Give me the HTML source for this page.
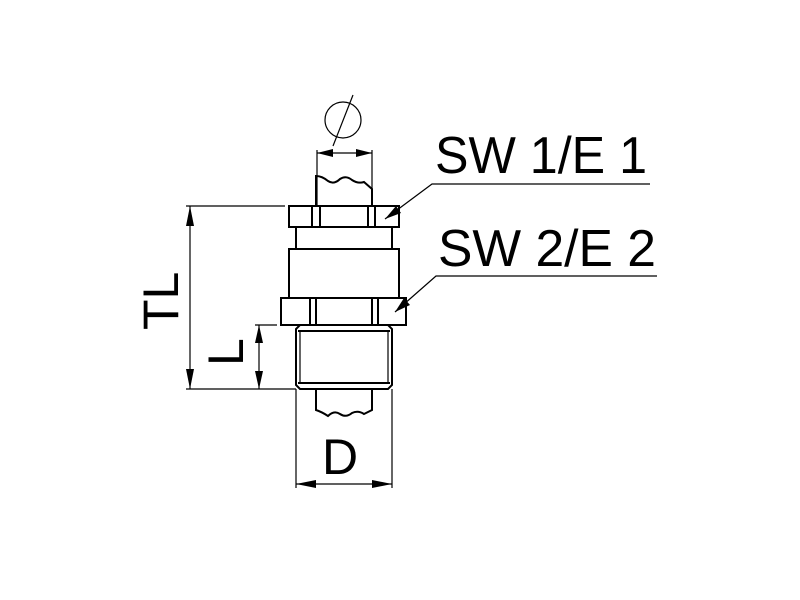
<!DOCTYPE html>
<html><head><style>body{margin:0;background:#fff}svg{display:block}</style></head><body>
<svg width="800" height="600" viewBox="0 0 800 600" xmlns="http://www.w3.org/2000/svg">
<rect width="800" height="600" fill="#fff"/>
<g fill="none" stroke="#000" stroke-width="2">
<!-- phi -->
<circle cx="343" cy="120" r="18" stroke-width="1.2"/>
<line x1="353" y1="95" x2="333" y2="146" stroke-width="1.2"/>
<line x1="317" y1="150" x2="317" y2="206" stroke-width="1.2"/>
<line x1="372" y1="150" x2="372" y2="206" stroke-width="1.2"/>
<line x1="317" y1="153" x2="372" y2="153" stroke-width="1.2"/>
<!-- top shaft -->
<path d="M316 206 V176 Q322 176 328 181 Q334 185 340 179 Q346 175 352 180 Q358 184 364 182 L372 189 V206"/>
<!-- top nut -->
<rect x="289" y="206" width="110" height="21"/>
<line x1="312" y1="206" x2="312" y2="227"/><line x1="320" y1="206" x2="320" y2="227"/>
<line x1="368" y1="206" x2="368" y2="227"/><line x1="375" y1="206" x2="375" y2="227"/>
<!-- neck -->
<line x1="296" y1="227" x2="296" y2="249"/><line x1="392" y1="227" x2="392" y2="249"/>
<!-- body -->
<rect x="289" y="249" width="110" height="49"/>
<!-- lower nut -->
<rect x="281" y="298" width="125" height="27"/>
<line x1="310" y1="298" x2="310" y2="325"/><line x1="316" y1="298" x2="316" y2="325"/>
<line x1="372" y1="298" x2="372" y2="325"/><line x1="378" y1="298" x2="378" y2="325"/>
<!-- thread -->
<path d="M300 325 H388 L392 329 V385 L388 389 H300 L296 385 V329 Z"/>
<line x1="298" y1="331" x2="390" y2="331"/><line x1="298" y1="383" x2="390" y2="383"/>
<line x1="300" y1="331" x2="300" y2="383" stroke-width="1.2"/><line x1="388" y1="331" x2="388" y2="383" stroke-width="1.2"/>
<!-- lower shaft -->
<path d="M316 389 V410 Q322 412 328 416 Q334 410 340 414 Q346 418 352 413 Q358 410 364 414 L372 410 V389"/>
</g>
<g fill="none" stroke="#000" stroke-width="1.2">
<!-- TL -->
<line x1="186" y1="206" x2="285" y2="206"/>
<line x1="186" y1="389" x2="296" y2="389"/>
<line x1="190" y1="206" x2="190" y2="389"/>
<!-- L -->
<line x1="255" y1="325" x2="277" y2="325"/>
<line x1="259" y1="325" x2="259" y2="389"/>
<!-- D -->
<line x1="296" y1="389" x2="296" y2="488"/>
<line x1="392" y1="389" x2="392" y2="488"/>
<line x1="296" y1="484" x2="392" y2="484"/>
<!-- leaders -->
<polyline points="650,184 432,184 385,219"/>
<polyline points="657,276 436,276 395,312"/>
</g>
<g fill="#000">
<polygon points="190,206 186,226 194,226"/><polygon points="190,389 186,369 194,369"/>
<polygon points="259,325 255,343 263,343"/><polygon points="259,389 255,371 263,371"/>
<polygon points="296,484 316,480 316,488"/><polygon points="392,484 372,480 372,488"/>
<polygon points="317,153 333,149 333,157"/><polygon points="372,153 356,149 356,157"/>
<polygon points="385,219 396,206 401,213"/><polygon points="395,312 404,298 410,305"/>
</g>
<g font-family="Liberation Sans, sans-serif" fill="#000">
<text x="435" y="173" font-size="52" textLength="212" lengthAdjust="spacingAndGlyphs">SW 1/E 1</text>
<text x="438" y="266" font-size="52" textLength="218" lengthAdjust="spacingAndGlyphs">SW 2/E 2</text>
<text x="322" y="474" font-size="50">D</text>
<text x="178" y="330" font-size="50" transform="rotate(-90 178 330)">TL</text>
<text x="243" y="366" font-size="50" transform="rotate(-90 243 366)">L</text>
</g>
</svg>
</body></html>
